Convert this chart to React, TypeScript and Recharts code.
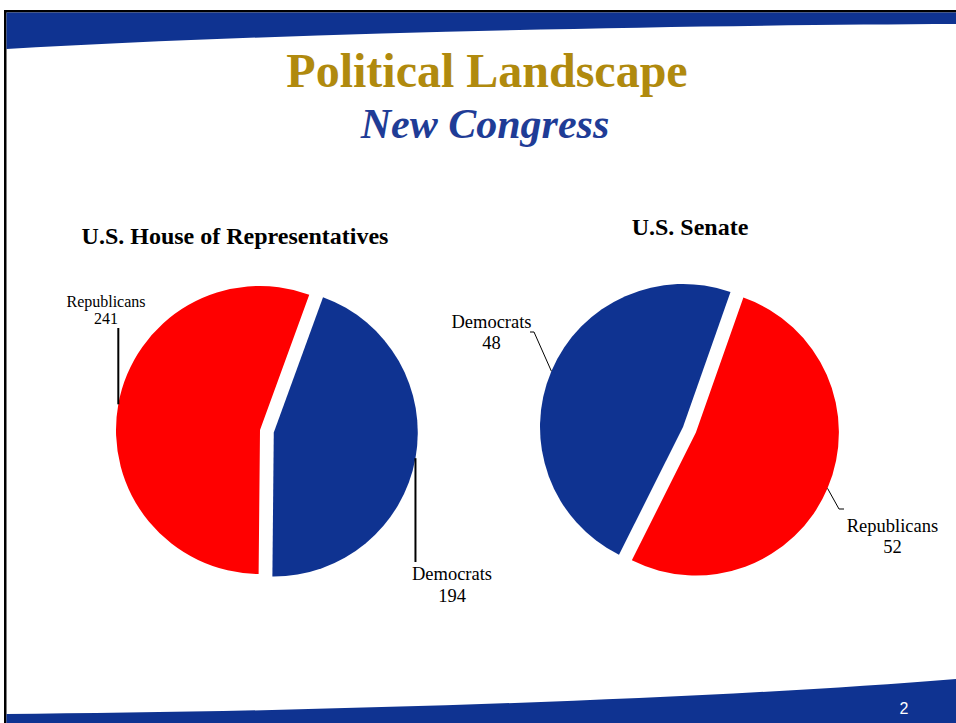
import React from 'react';
import { PieChart, Pie, Cell } from 'recharts';

// Seats in the new Congress
const parties = ['Democrats', 'Republicans'];
const houseSeats = [194, 241];
const senateSeats = [48, 52];

const BLUE = '#0f3391';
const RED = '#ff0000';
const partyColors = [BLUE, RED];
const SERIF = '"Liberation Serif", "Times New Roman", serif';
const RAD = Math.PI / 180;
const EXPLODE = 14;

type Pt = [number | null, number | null];
interface LabelSpot {
  path: Pt[]; // leader points after the arc point; null = same as arc point
  x: number;
  y: number;
  fontSize: number;
  gap: number;
}

const charts = [
  {
    key: 'house',
    title: 'U.S. House of Representatives',
    titleX: 235,
    titleY: 244,
    seats: houseSeats,
    cx: 260,
    cy: 430,
    r: 144,
    startAngle: 70,
    explode: 0,
    lineWidth: 2,
  },
  {
    key: 'senate',
    title: 'U.S. Senate',
    titleX: 690,
    titleY: 235,
    seats: senateSeats,
    cx: 683,
    cy: 427,
    r: 143,
    startAngle: -116.6,
    explode: 1,
    lineWidth: 1,
  },
];

const labelLayout: Record<string, Record<string, LabelSpot>> = {
  house: {
    Republicans: { path: [[null, 328]], x: 106, y: 307, fontSize: 16, gap: 17 },
    Democrats: { path: [[null, 562]], x: 452, y: 580, fontSize: 18.5, gap: 21.5 },
  },
  senate: {
    Democrats: { path: [[534, 332], [530, 332]], x: 491.5, y: 328, fontSize: 18.5, gap: 21 },
    Republicans: { path: [[839, 509], [844, 509]], x: 892.5, y: 531.5, fontSize: 18.5, gap: 21.5 },
  },
};

function sliceMid(seats: number[], start: number, idx: number) {
  const total = seats.reduce((a, b) => a + b, 0);
  const before = seats.slice(0, idx).reduce((a, b) => a + b, 0);
  return start - ((before + seats[idx] / 2) / total) * 360;
}

export default function App() {
  return (
    <div style={{ position: 'absolute', left: 0, top: 0, width: 956, height: 723, background: '#fff' }}>
      <svg width={956} height={723} style={{ position: 'absolute', left: 0, top: 0 }}>
        {/* slide frame + bands */}
        <rect x={4} y={10} width={952} height={2.5} fill="#000" />
        <rect x={4} y={10} width={2.5} height={713} fill="#000" />
        <path d="M6.5 12.5 H956 V24 C 700 25, 300 32, 6.5 49 Z" fill={BLUE} />
        <path d="M6.5 723 V714 C 300 712, 700 700, 956 679 V723 Z" fill={BLUE} />
        <text x={904} y={714} fill="#fff" fontFamily="Arial, Liberation Sans, sans-serif" fontSize={16} textAnchor="middle">
          2
        </text>
        <text x={487} y={87} fill="#b08a0e" fontFamily={SERIF} fontWeight="bold" fontSize={48} textAnchor="middle">
          Political Landscape
        </text>
        <text x={485} y={138} fill="#1f3c96" fontFamily={SERIF} fontWeight="bold" fontStyle="italic" fontSize={42} textAnchor="middle">
          New Congress
        </text>
        {charts.map((c) => (
          <text key={c.key} x={c.titleX} y={c.titleY} fontFamily={SERIF} fontWeight="bold" fontSize={24} textAnchor="middle" fill="#000">
            {c.title}
          </text>
        ))}
      </svg>
      <div style={{ position: 'absolute', left: 0, top: 0 }}>
        <PieChart width={956} height={723} margin={{ top: 0, right: 0, bottom: 0, left: 0 }}>
          {charts.flatMap((c) => {
            const data = parties.map((name, i) => ({ name, value: c.seats[i] }));
            const mid = sliceMid(c.seats, c.startAngle, c.explode);
            const dx = EXPLODE * Math.cos(mid * RAD);
            const dy = -EXPLODE * Math.sin(mid * RAD);
            return [false, true].map((pulled) => {
              const pcx = c.cx + (pulled ? dx : 0);
              const pcy = c.cy + (pulled ? dy : 0);
              const renderLabel = (p: any) => {
                if ((p.index === c.explode) !== pulled) return <g />;
                const spot = labelLayout[c.key][p.name];
                const ccx = p.cx ?? pcx;
                const ccy = p.cy ?? pcy;
                const ax = ccx + c.r * Math.cos(-p.midAngle * RAD);
                const ay = ccy + c.r * Math.sin(-p.midAngle * RAD);
                const pts = [[ax, ay], ...spot.path.map(([x, y]) => [x ?? ax, y ?? ay])];
                return (
                  <g>
                    <polyline
                      points={pts.map((q) => q.join(',')).join(' ')}
                      fill="none"
                      stroke="#000"
                      strokeWidth={c.lineWidth}
                    />
                    <text x={spot.x} y={spot.y} fontFamily={SERIF} fontSize={spot.fontSize} textAnchor="middle" fill="#000">
                      {p.name}
                    </text>
                    <text x={spot.x} y={spot.y + spot.gap} fontFamily={SERIF} fontSize={spot.fontSize} textAnchor="middle" fill="#000">
                      {p.value}
                    </text>
                  </g>
                );
              };
              return (
                <Pie
                  key={c.key + (pulled ? '-out' : '-base')}
                  data={data}
                  dataKey="value"
                  nameKey="name"
                  cx={pcx}
                  cy={pcy}
                  outerRadius={c.r}
                  startAngle={c.startAngle}
                  endAngle={c.startAngle - 360}
                  stroke="none"
                  labelLine={false}
                  label={renderLabel}
                  isAnimationActive={false}
                >
                  {data.map((d, i) => (
                    <Cell key={d.name} fill={partyColors[i]} fillOpacity={(i === c.explode) === pulled ? 1 : 0} />
                  ))}
                </Pie>
              );
            });
          })}
        </PieChart>
      </div>
    </div>
  );
}
